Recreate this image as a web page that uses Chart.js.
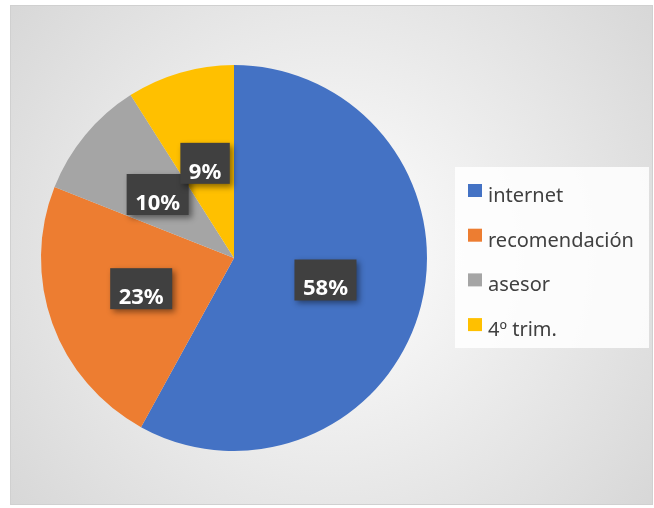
<!DOCTYPE html>
<html>
<head>
<meta charset="utf-8">
<script src="https://cdn.jsdelivr.net/npm/chart.js@4.4.1/dist/chart.umd.min.js"></script>
<style>
  html, body { margin: 0; padding: 0; background: #fff; }
  #wrap { width: 654px; height: 508px; }
</style>
</head>
<body>
<div id="wrap"><canvas id="pieChart" width="654" height="508"></canvas></div>
<script>
const categories = ["internet", "recomendación", "asesor", "4º trim."];
const shares = [58, 23, 10, 9];
const sliceColors = ["#4472C4", "#ED7D31", "#A5A5A5", "#FFC000"];

const FONT = "'Noto Sans', sans-serif";

// frame + radial fill behind the pie
const backdrop = {
    id: "backdrop",
    beforeDraw(chart) {
        const ctx = chart.ctx;
        ctx.save();
        ctx.fillStyle = "#ffffff";
        ctx.fillRect(0, 0, chart.width, chart.height);
        const g = ctx.createRadialGradient(331, 254, 0, 331, 254, 420);
        g.addColorStop(0, "#ffffff");
        g.addColorStop(1, "#d6d6d6");
        ctx.fillStyle = g;
        ctx.fillRect(10, 5, 643, 500);
        ctx.strokeStyle = "#d0d0d0";
        ctx.lineWidth = 1;
        ctx.strokeRect(10.5, 5.5, 642, 499);
        ctx.restore();
    }
};

// dark boxed percentage labels on each slice
const sliceLabels = {
    id: "sliceLabels",
    afterDatasetsDraw(chart) {
        const ctx = chart.ctx;
        const meta = chart.getDatasetMeta(0);
        ctx.save();
        ctx.font = "bold 22px " + FONT;
        ctx.textAlign = "center";
        ctx.textBaseline = "alphabetic";
        meta.data.forEach((arc, i) => {
            const p = arc.tooltipPosition();
            const txt = shares[i] + "%";
            const cx = p.x - 2, cy = p.y - 2;
            const w = ctx.measureText(txt).width + 17;
            const h = 41;
            const x = cx - w / 2, y = cy - h / 2;
            ctx.shadowColor = "rgba(0,0,0,0.45)";
            ctx.shadowBlur = 6;
            ctx.shadowOffsetX = 3;
            ctx.shadowOffsetY = 3;
            ctx.fillStyle = "#404040";
            ctx.fillRect(x, y, w, h);
            ctx.shadowColor = "transparent";
            ctx.fillStyle = "#ffffff";
            ctx.fillText(txt, cx, y + h - 5);
        });
        ctx.restore();
    }
};

// legend on the right inside a white panel
const sideLegend = {
    id: "sideLegend",
    afterDraw(chart) {
        const ctx = chart.ctx;
        const colors = chart.data.datasets[0].backgroundColor;
        ctx.save();
        ctx.fillStyle = "rgba(255,255,255,0.85)";
        ctx.fillRect(455, 167, 194, 181);
        ctx.font = "20px " + FONT;
        ctx.textBaseline = "alphabetic";
        ctx.textAlign = "left";
        chart.data.labels.forEach((lab, i) => {
            const top = 184 + i * 44.7;
            ctx.fillStyle = colors[i];
            ctx.fillRect(468, top, 14, 13);
            ctx.fillStyle = "#404040";
            ctx.fillText(lab, 488, top + 18);
        });
        ctx.restore();
    }
};

new Chart(document.getElementById("pieChart"), {
    type: "pie",
    data: {
        labels: categories,
        datasets: [{
            data: shares,
            backgroundColor: sliceColors,
            borderWidth: 0
        }]
    },
    options: {
        responsive: false,
        animation: false,
        layout: { padding: { left: 41, right: 227, top: 65, bottom: 57 } },
        plugins: {
            legend: { display: false },
            tooltip: { enabled: false }
        }
    },
    plugins: [backdrop, sliceLabels, sideLegend]
});
</script>
</body>
</html>
